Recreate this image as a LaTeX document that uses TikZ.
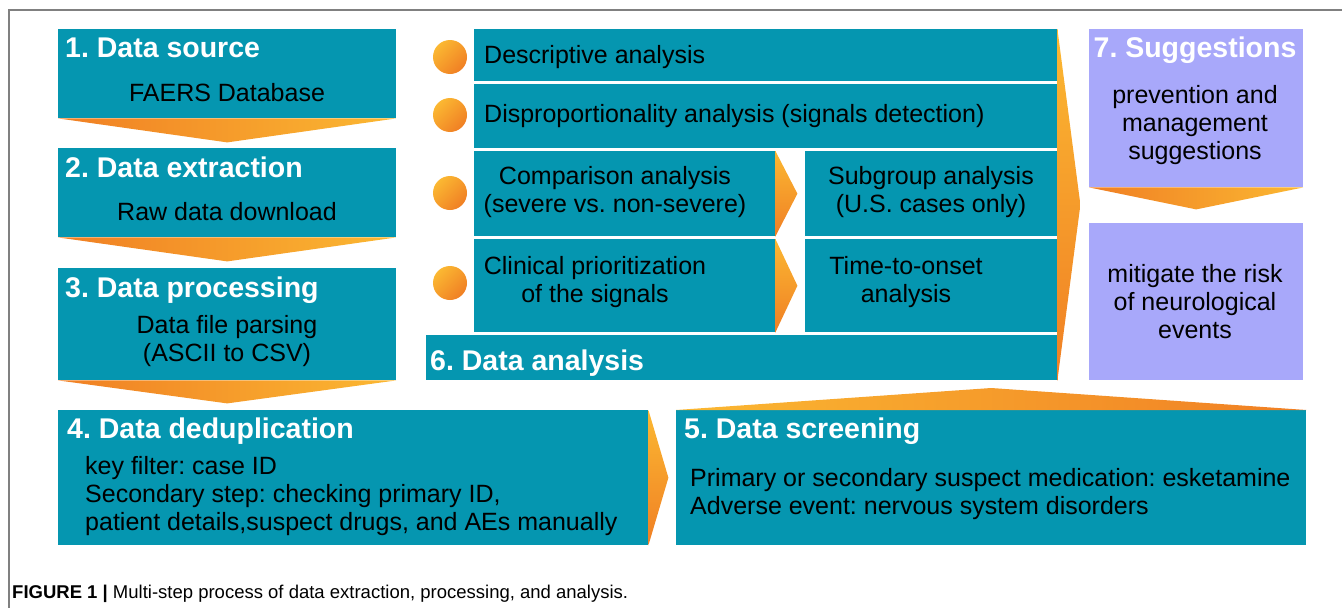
\documentclass[tikz,border=0pt]{standalone}
\usepackage{fontspec}
\setmainfont{Liberation Sans}
\usetikzlibrary{calc}
\definecolor{tealc}{HTML}{0596B0}
\definecolor{lav}{HTML}{A8A8FA}
\definecolor{ord}{HTML}{F07F24}
\definecolor{ory}{HTML}{FBB832}
\definecolor{framec}{HTML}{808080}
\frenchspacing
\begin{document}
\begin{tikzpicture}[x=1pt,y=-1pt,
  box/.style={rectangle, fill=tealc, draw=none, inner sep=0pt, anchor=north west},
  lbox/.style={box, fill=lav},
  ttl/.style={font=\fontsize{28.5}{32}\selectfont\bfseries, text=white, inner sep=0pt},
  txt/.style={font=\fontsize{25}{28}\selectfont, text=black, inner sep=0pt},
  dot/.style={circle, inner sep=0pt, minimum size=34pt, draw=none, top color=ory, bottom color=ord, shading angle=45},
  downarr/.style={left color=ord, right color=ory},
  rightarr/.style={top color=ory, bottom color=ord},
  uparr/.style={left color=ory, right color=ord}
]
\useasboundingbox (0,0) rectangle (1342,608);
% frame
\coordinate (fa) at (9,608);
\coordinate (fb) at (9,10);
\coordinate (fc) at (1342,10);
\draw[framec, line width=1.5pt] (fa) -- (fb) -- (fc);

% left column
\node[box, minimum width=338pt, minimum height=89pt] (b1) at (58,29) {};
\node[box, minimum width=338pt, minimum height=89pt] (b2) at (58,148) {};
\node[box, minimum width=338pt, minimum height=112pt] (b3) at (58,268) {};
\node[box, minimum width=590pt, minimum height=135pt] (b4) at (58,410) {};
\node[box, minimum width=630pt, minimum height=135pt] (b5) at (676,410) {};

% analysis block
\node[box, minimum width=583pt, minimum height=52pt] (r1) at (474,29) {};
\node[box, minimum width=583pt, minimum height=64pt] (r2) at (474,84) {};
\node[box, minimum width=301pt, minimum height=85pt] (r3a) at (474,151) {};
\node[box, minimum width=252pt, minimum height=85pt] (r3b) at (805,151) {};
\node[box, minimum width=301pt, minimum height=93pt] (r4a) at (474,239) {};
\node[box, minimum width=252pt, minimum height=93pt] (r4b) at (805,239) {};
\node[box, minimum width=631pt, minimum height=45pt] (b6) at (426,335) {};

% suggestions
\node[lbox, minimum width=214pt, minimum height=158pt] (s1) at (1089,29) {};
\node[lbox, minimum width=214pt, minimum height=157pt] (s2) at (1089,223) {};

% circles
\node[dot] (c1) at (450,57) {};
\node[dot] (c2) at (450,115) {};
\node[dot] (c3) at (450,193) {};
\node[dot] (c4) at (450,283) {};

% arrows
\shade[downarr] (b1.south west) -- (b1.south east) -- ($(b1.south)+(0,24)$) -- cycle;
\shade[downarr] (b2.south west) -- (b2.south east) -- ($(b2.south)+(0,24)$) -- cycle;
\shade[downarr] (b3.south west) -- (b3.south east) -- ($(b3.south)+(0,23)$) -- cycle;
\shade[rightarr] (b4.north east) -- ($(b4.east)+(20,0)$) -- (b4.south east) -- cycle;
\shade[uparr] (b5.north west) -- ($(b5.north)+(0,-22)$) -- (b5.north east) -- cycle;
\shade[rightarr] (r3a.north east) -- ($(r3a.east)+(22,0)$) -- (r3a.south east) -- cycle;
\shade[rightarr] (r4a.north east) -- ($(r4a.east)+(22,0)$) -- (r4a.south east) -- cycle;
\shade[rightarr] (r1.north east) -- ($($(r1.north east)!0.5!(b6.south east)$)+(23,0)$) -- (b6.south east) -- cycle;
\shade[downarr] (s1.south west) -- (s1.south east) -- ($(s1.south)+(0,22)$) -- cycle;

% texts
\node[ttl, anchor=base west] (t1) at (65,57) {1. Data source};
\node[txt, anchor=base] (t1b) at (227,101) {FAERS Database};
\node[ttl, anchor=base west] (t2) at (65,177) {2. Data extraction};
\node[txt, anchor=base] (t2b) at (227,220) {Raw data download};
\node[ttl, anchor=base west] (t3) at (65,297) {3. Data processing};
\node[txt, align=center] (t3b) at (227,341) {Data file parsing\\(ASCII to CSV)};
\node[ttl, anchor=base west] (t4) at (67,438) {4. Data deduplication};
\node[txt, align=left, anchor=west] (t4b) at (85,496) {key filter: case ID\\Secondary step: checking primary ID,\\patient details,suspect drugs, and AEs manually};
\node[ttl, anchor=base west] (t5) at (684,438) {5. Data screening};
\node[txt, align=left, anchor=west] (t5b) at (690,494) {Primary or secondary suspect medication: esketamine\\Adverse event: nervous system disorders};
\node[ttl, anchor=base west] (t6) at (430,370) {6. Data analysis};
\node[txt, anchor=base west] (tr1) at (484,63) {Descriptive analysis};
\node[txt, anchor=base west] (tr2) at (484,122) {Disproportionality analysis (signals detection)};
\node[txt, align=center] (tr3a) at (615,192) {Comparison analysis\\(severe vs. non-severe)};
\node[txt, align=center] (tr3b) at (931,192) {Subgroup analysis\\(U.S. cases only)};
\node[txt, align=center] (tr4a) at (595,282) {Clinical prioritization\\of the signals};
\node[txt, align=center] (tr4b) at (906,282) {Time-to-onset\\analysis};
\node[ttl, anchor=base] (t7) at (1195,57) {7. Suggestions};
\node[txt, align=center] (t7b) at (1195,125) {prevention and\\management\\suggestions};
\node[txt, align=center] (t7c) at (1195,302) {mitigate the risk\\of neurological\\events};

% caption
\node[inner sep=0pt, anchor=base west, font=\fontsize{18.5}{20}\selectfont] (cap) at (12,598) {\textbf{FIGURE 1 |} Multi-step process of data extraction, processing, and analysis.};
\end{tikzpicture}
\end{document}
